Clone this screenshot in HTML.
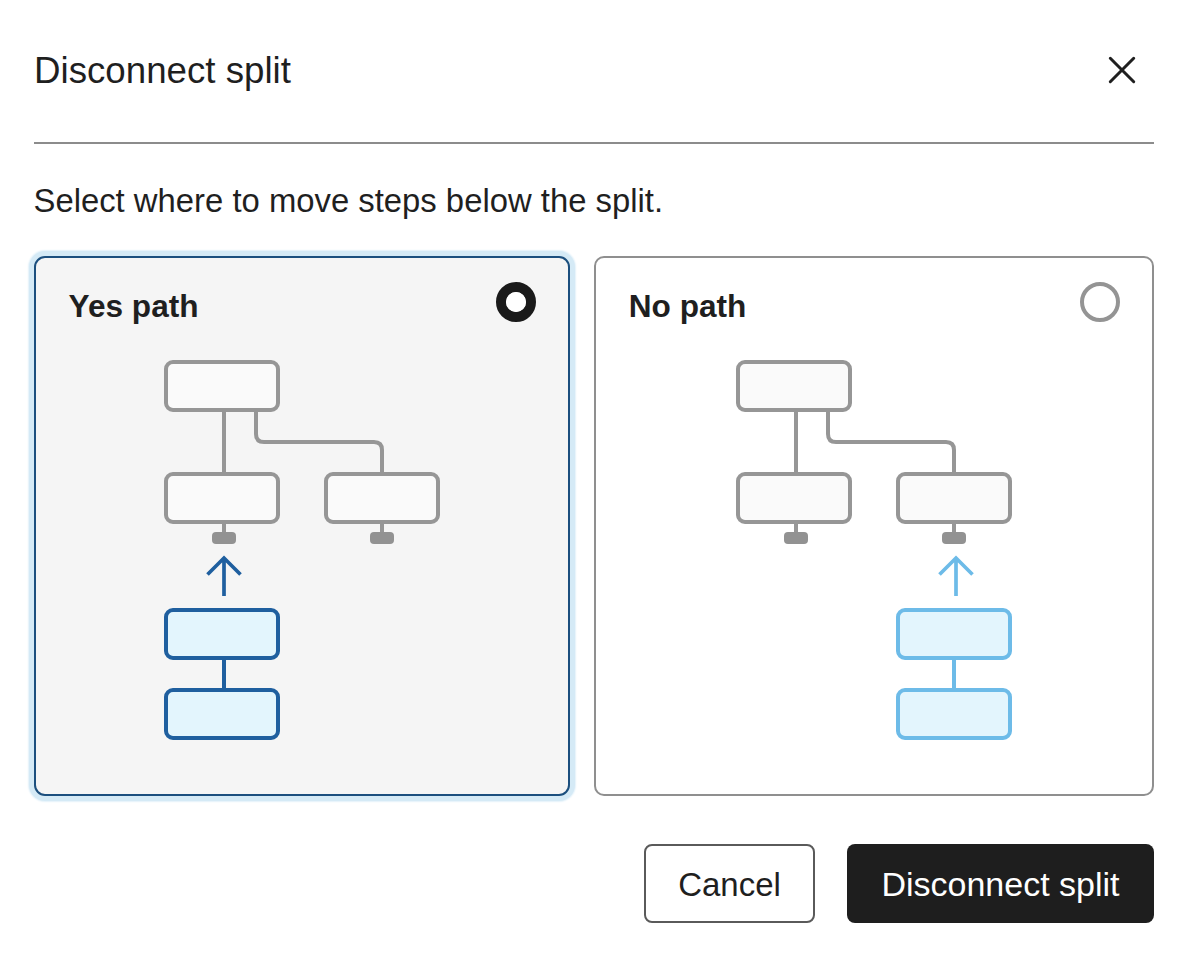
<!DOCTYPE html>
<html>
<head>
<meta charset="utf-8">
<style>
html,body{margin:0;padding:0;background:#ffffff;width:1194px;height:962px;overflow:hidden;position:relative;font-family:"Liberation Sans",sans-serif;color:#1f1f1f;}
.abs{position:absolute;}
.t{position:absolute;white-space:nowrap;line-height:1;}
#title{left:34px;top:52.7px;font-size:36.7px;}
#close{left:1100px;top:47.7px;width:44px;height:44px;}
#divider{left:34px;top:142px;width:1120px;height:2px;background:#8c8c8c;}
#sub{left:33.5px;top:185.4px;font-size:32.85px;}
.card{position:absolute;box-sizing:border-box;border:2px solid #8f8f8f;}
#c1{left:34px;top:256px;width:536px;height:540px;background:#f5f5f5;border-color:#1c4f7e;border-radius:11px;box-shadow:0 0 0 5px #d5eaf6,0 0 1.5px 6px #e4f2fa;}
#c2{left:594px;top:256px;width:560px;height:540px;background:#ffffff;border-radius:10px;}
.ct{font-weight:700;font-size:31.6px;}
#y{left:68.6px;top:290.9px;}
#n{left:628.8px;top:290.9px;}
.btn{position:absolute;box-sizing:border-box;top:844px;height:79px;border-radius:8px;}
.bt{position:absolute;left:0;right:0;text-align:center;white-space:nowrap;line-height:1;}
#cancel{left:644px;width:171px;border:2px solid #5a5a5a;background:#fff;color:#1f1f1f;}
#cancel .bt{font-size:33px;top:22px;}
#disc{left:847px;width:307px;background:#1e1e1e;color:#fff;}
#disc .bt{font-size:34px;top:23.2px;}
svg{position:absolute;left:0;top:0;}
</style>
</head>
<body>
<div class="t" id="title">Disconnect split</div>
<svg id="close" viewBox="0 0 44 44" width="44" height="44"><path d="M10.3 10.3 L33.7 33.7 M33.7 10.3 L10.3 33.7" stroke="#1f1f1f" stroke-width="3" stroke-linecap="round" fill="none"/></svg>
<div class="abs" id="divider"></div>
<div class="t" id="sub">Select where to move steps below the split.</div>

<div class="card" id="c1"></div>
<div class="card" id="c2"></div>
<div class="t ct" id="y">Yes path</div>
<div class="t ct" id="n">No path</div>

<svg width="1194" height="962" viewBox="0 0 1194 962">
  <!-- radios -->
  <circle cx="516" cy="302" r="15" fill="none" stroke="#1a1a1a" stroke-width="10"/>
  <circle cx="516" cy="302" r="10" fill="#ffffff"/>
  <circle cx="1100" cy="302" r="18" fill="#ffffff" stroke="#949494" stroke-width="4"/>

  <g id="d1" fill="#fafafa" stroke="#969696" stroke-width="4">
    <rect x="166" y="362" width="112" height="48" rx="7"/>
    <path d="M224 412 V472" fill="none"/>
    <path d="M256 412 V434 Q256 442 264 442 H374 Q382 442 382 450 V472" fill="none"/>
    <rect x="166" y="474" width="112" height="48" rx="7"/>
    <rect x="326" y="474" width="112" height="48" rx="7"/>
    <path d="M224 524 V533 M382 524 V533" fill="none"/>
    <rect x="212" y="532" width="24" height="12" rx="4" fill="#929292" stroke="none"/>
    <rect x="370" y="532" width="24" height="12" rx="4" fill="#929292" stroke="none"/>
  </g>
  <g fill="#e3f5fd" stroke="#1f5f9f" stroke-width="4">
    <path d="M224 596 V559 M207.5 574.5 L224 558 L240.5 574.5" fill="none" stroke-width="3.7"/>
    <rect x="166" y="610" width="112" height="48" rx="7"/>
    <path d="M224 660 V688" fill="none"/>
    <rect x="166" y="690" width="112" height="48" rx="7"/>
  </g>

  <g transform="translate(572 0)">
    <g fill="#fafafa" stroke="#969696" stroke-width="4">
      <rect x="166" y="362" width="112" height="48" rx="7"/>
      <path d="M224 412 V472" fill="none"/>
      <path d="M256 412 V434 Q256 442 264 442 H374 Q382 442 382 450 V472" fill="none"/>
      <rect x="166" y="474" width="112" height="48" rx="7"/>
      <rect x="326" y="474" width="112" height="48" rx="7"/>
      <path d="M224 524 V533 M382 524 V533" fill="none"/>
      <rect x="212" y="532" width="24" height="12" rx="4" fill="#929292" stroke="none"/>
      <rect x="370" y="532" width="24" height="12" rx="4" fill="#929292" stroke="none"/>
    </g>
    <g fill="#e3f5fd" stroke="#6dbbe8" stroke-width="4">
      <path d="M384 596 V559 M367.5 574.5 L384 558 L400.5 574.5" fill="none" stroke-width="3.7"/>
      <rect x="326" y="610" width="112" height="48" rx="7"/>
      <path d="M382 660 V688" fill="none"/>
      <rect x="326" y="690" width="112" height="48" rx="7"/>
    </g>
  </g>
</svg>

<div class="btn" id="cancel"><span class="bt">Cancel</span></div>
<div class="btn" id="disc"><span class="bt">Disconnect split</span></div>
</body>
</html>
